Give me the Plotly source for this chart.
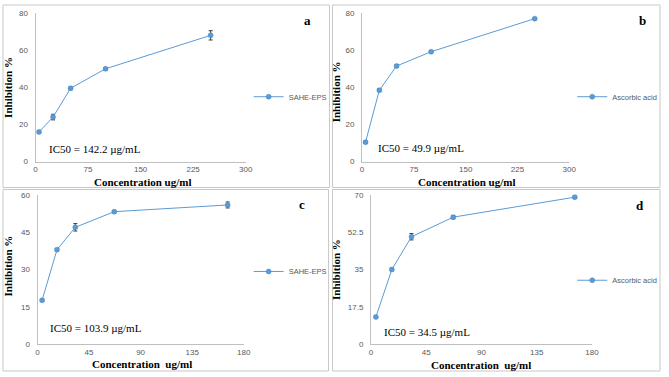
import plotly.graph_objects as go

W, H = 669, 377

# ---------------- data ----------------
conc_ab = [5, 25, 50, 100, 250]
conc_cd = [4, 17, 33, 67, 166]

inhib_a = [16, 24, 39.5, 50, 68]
err_a = [0.8, 1.5, 0.8, 0.6, 2.5]
inhib_b = [10.5, 38.5, 51.5, 59.2, 77]
err_b = [0.6, 0.8, 0.8, 0.6, 0.5]
inhib_c = [17.6, 38, 47, 53.3, 56]
err_c = [0.5, 0.5, 1.5, 0.5, 1.2]
inhib_d = [12.7, 35, 50.4, 59.6, 69]
err_d = [0.6, 0.6, 1.5, 0.8, 0.6]

series_names = ["SAHE-EPS", "Ascorbic acid", "SAHE-EPS", "Ascorbic acid"]
panel_letters = ["a", "b", "c", "d"]
ic50_labels = ["IC50 = 142.2 µg/mL", "IC50 = 49.9 µg/mL",
               "IC50 = 103.9 µg/mL", "IC50 = 34.5 µg/mL"]
xtick_ab = [0, 75, 150, 225, 300]
xtick_cd = [0, 45, 90, 135, 180]
ytick_ab = [0, 20, 40, 60, 80]
ytick_c = [0, 15, 30, 45, 60]
ytick_d = [0, 17.5, 35, 52.5, 70]
ytick_d_text = ["0", "17.5", "35", "52.5", "70"]
xtitle_ab = "Concentration ug/ml"
xtitle_cd = "Concentration\u00a0 ug/ml"
ytitle = "Inhibition %"

# ---------------- layout helpers (pixels) ----------------
def px(x):
    return x / W

def py(y):
    return 1 - y / H

BLUE = "#5B9BD5"
AX = "#BFBFBF"
TICKC = "#595959"
SANS = "Liberation Sans, Arial, sans-serif"
SERIF = "Liberation Serif, Times New Roman, serif"

panels = [
    dict(x=conc_ab, y=inhib_a, e=err_a, xd=(34, 247), yd=(161.5, 9.3), xr=[0, 300], yr=[0, 80],
         xt=xtick_ab, yt=ytick_ab, ytt=None, leg=(250, 95), let=(310, 17), ic=(46, 149),
         xtitle=xtitle_ab, xtp=(142, 182), ytp=(6, 85)),
    dict(x=conc_ab, y=inhib_b, e=err_b, xd=(365, 575), yd=(161.5, 9.3), xr=[0, 300], yr=[0, 80],
         xt=xtick_ab, yt=ytick_ab, ytt=None, leg=(578, 95), let=(649, 17), ic=(379, 148),
         xtitle=xtitle_ab, xtp=(471, 182), ytp=(338, 90)),
    dict(x=conc_cd, y=inhib_c, e=err_c, xd=(36, 245), yd=(348.3, 195.7), xr=[0, 180], yr=[0, 60],
         xt=xtick_cd, yt=ytick_c, ytt=None, leg=(250, 274), let=(304, 205), ic=(47, 332),
         xtitle=xtitle_cd, xtp=(142, 369), ytp=(6, 268)),
    dict(x=conc_cd, y=inhib_d, e=err_d, xd=(374, 598), yd=(348.3, 195.7), xr=[0, 180], yr=[0, 70],
         xt=xtick_cd, yt=ytick_d, ytt=ytick_d_text, leg=(578, 283), let=(647, 206), ic=(385, 336),
         xtitle=xtitle_cd, xtp=(486, 370), ytp=(338, 272)),
]

fig = go.Figure()
layout = dict(width=W, height=H, margin=dict(l=0, r=0, t=0, b=0),
              paper_bgcolor="white", plot_bgcolor="white", showlegend=True)
annotations = []
shapes = []

for i, p in enumerate(panels):
    k = "" if i == 0 else str(i + 1)
    legname = "legend" if i == 0 else f"legend{i + 1}"
    fig.add_trace(go.Scatter(
        x=p["x"], y=p["y"], mode="lines+markers", name=series_names[i],
        line=dict(color=BLUE, width=1),
        marker=dict(color=BLUE, size=5, symbol="circle", line=dict(color="#4A86C0", width=0.5)),
        error_y=dict(type="data", array=p["e"], visible=True, color="#3A3A3A", thickness=1, width=2),
        xaxis="x" + k, yaxis="y" + k, legend=legname, cliponaxis=False,
    ))
    layout["xaxis" + k] = dict(
        domain=[px(p["xd"][0]), px(p["xd"][1])], range=p["xr"], anchor="y" + k,
        tickmode="array", tickvals=p["xt"], showgrid=False, zeroline=False,
        showline=True, linecolor=AX, linewidth=1, ticks="",
        tickfont=dict(family=SANS, size=8, color=TICKC),
    )
    ydict = dict(
        domain=[py(p["yd"][0]), py(p["yd"][1])], range=p["yr"], anchor="x" + k,
        tickmode="array", tickvals=p["yt"], showgrid=False, zeroline=False,
        showline=True, linecolor=AX, linewidth=1, ticks="", ticklabelstandoff=5,
        tickfont=dict(family=SANS, size=8, color=TICKC),
    )
    if p["ytt"] is not None:
        ydict["ticktext"] = p["ytt"]
    layout["yaxis" + k] = ydict
    layout[legname] = dict(
        x=px(p["leg"][0]), y=py(p["leg"][1]), xanchor="left", yanchor="middle",
        bgcolor="rgba(0,0,0,0)", itemwidth=30, tracegroupgap=0,
        font=dict(family=SANS, size=7.5, color=TICKC),
    )
    annotations.append(dict(text="<b>" + panel_letters[i] + "</b>", x=px(p["let"][0]), y=py(p["let"][1]),
                            xref="paper", yref="paper", showarrow=False, xanchor="center", yanchor="middle",
                            font=dict(family=SERIF, size=13, color="black")))
    annotations.append(dict(text=ic50_labels[i], x=px(p["ic"][0]), y=py(p["ic"][1]),
                            xref="paper", yref="paper", showarrow=False, xanchor="left", yanchor="middle",
                            font=dict(family=SERIF, size=11, color="black")))
    annotations.append(dict(text="<b>" + p["xtitle"] + "</b>", x=px(p["xtp"][0]), y=py(p["xtp"][1]),
                            xref="paper", yref="paper", showarrow=False, xanchor="center", yanchor="middle",
                            font=dict(family=SERIF, size=11, color="black")))
    annotations.append(dict(text="<b>" + ytitle + "</b>", x=px(p["ytp"][0]), y=py(p["ytp"][1]),
                            xref="paper", yref="paper", showarrow=False, xanchor="center", yanchor="middle",
                            textangle=-90, font=dict(family=SERIF, size=11, color="black")))

for (x0, y0, x1, y1) in [(1, 1, 332, 188), (335, 1, 667, 188), (1, 190, 331, 376), (335, 190, 667, 376)]:
    shapes.append(dict(type="rect", xref="paper", yref="paper",
                       x0=px(x0), x1=px(x1), y0=py(y1), y1=py(y0),
                       line=dict(color="#C8C8C8", width=1), fillcolor="rgba(0,0,0,0)", layer="below"))

layout["annotations"] = annotations
layout["shapes"] = shapes
fig.update_layout(**layout)
fig.write_html("out.html", config={"displayModeBar": False},
               post_script="document.body.style.margin='0';document.body.style.overflow='hidden';")
